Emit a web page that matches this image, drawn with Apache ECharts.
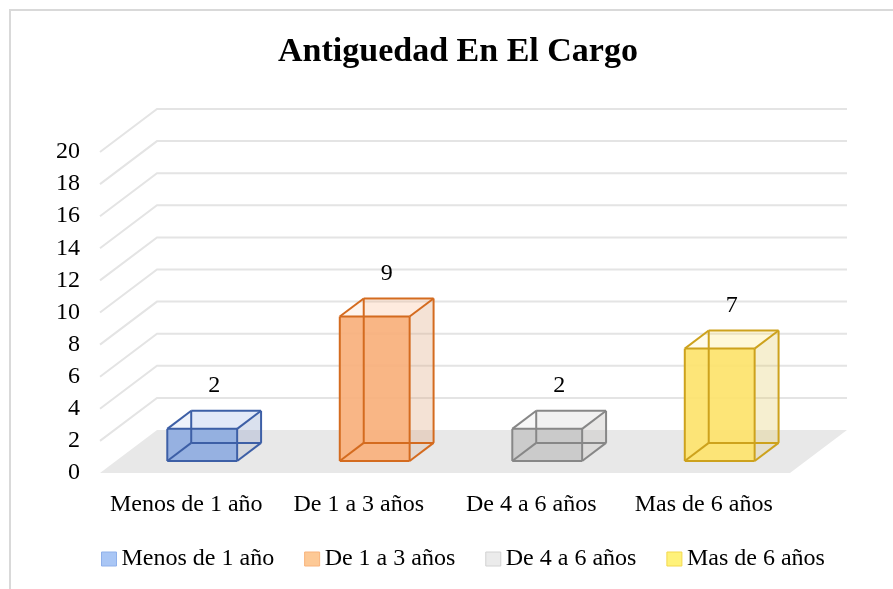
<!DOCTYPE html>
<html>
<head>
<meta charset="utf-8">
<script src="https://cdn.jsdelivr.net/npm/echarts@6/dist/echarts.min.js"></script>
<style>
  html, body { margin: 0; padding: 0; background: #fff; }
  #main { width: 893px; height: 589px; }
</style>
</head>
<body>
<div id="main"></div>
<script>
// datos del grafico
var categories = ['Menos de 1 año', 'De 1 a 3 años', 'De 4 a 6 años', 'Mas de 6 años'];
var values = [2, 9, 2, 7];
var yTicks = [0, 2, 4, 6, 8, 10, 12, 14, 16, 18, 20];

// colores (cara frontal, aristas, leyenda)
var frontColors = ['#8eabe0', '#f8b07c', '#c8c8c8', '#fde36c'];
var edgeColors = ['#3d5fa6', '#d46b1f', '#878787', '#cda21d'];
var legendColors = ['#a9c6f5', '#fdc996', '#ebebeb', '#fff27a'];
var legendBorders = ['#8fb0ea', '#f8b37c', '#d2d2d2', '#f3d84e'];

var FONT = "'Liberation Serif', 'Times New Roman', serif";
// desplazamiento de profundidad (pseudo 3D)
var DX = 57, DY = -43;
var D0 = 0.28, D1 = 0.70;
var BAR_W = 0.405;

function pt(x, y, d) {
  return [x + DX * d, y + DY * d];
}

function renderWall(params, api) {
  var cs = params.coordSys;
  var v = api.value(1);
  var y = api.coord([0, v])[1];
  var gx = cs.x, gw = cs.width;
  if (v === 0) {
    return {
      type: 'polygon',
      shape: { points: [[gx, y], [gx + gw, y], pt(gx + gw, y, 1), pt(gx, y, 1)] },
      style: { fill: '#e8e8e8' }
    };
  }
  return {
    type: 'polyline',
    shape: { points: [[gx, y], pt(gx, y, 1), pt(gx + gw, y, 1)] },
    style: { stroke: '#e4e4e4', lineWidth: 2, fill: null }
  };
}

function makeBox(i) {
  return function (params, api) {
    var cat = api.value(0), v = api.value(1);
    var base = api.coord([cat, 0]);
    var top = api.coord([cat, v]);
    var w = api.size([1, 0])[0] * BAR_W;
    var x0 = base[0] - w / 2, x1 = base[0] + w / 2;
    var yb = base[1], yt = top[1];

    var A0 = pt(x0, yt, D0), B0 = pt(x1, yt, D0), C0 = pt(x1, yb, D0), E0 = pt(x0, yb, D0);
    var A1 = pt(x0, yt, D1), B1 = pt(x1, yt, D1), C1 = pt(x1, yb, D1), E1 = pt(x0, yb, D1);

    var pale = { fill: frontColors[i], opacity: 0.14 };
    var edge = { stroke: edgeColors[i], lineWidth: 2, fill: null };
    var edges = [
      [A0, B0], [B0, C0], [C0, E0], [E0, A0],
      [A1, B1], [B1, C1], [C1, E1], [E1, A1],
      [A0, A1], [B0, B1], [C0, C1], [E0, E1]
    ];
    var kids = [
      { type: 'polygon', shape: { points: [A1, B1, C1, E1] }, style: pale },
      { type: 'polygon', shape: { points: [B0, B1, C1, C0] }, style: { fill: '#b0a8a0', opacity: 0.12 } },
      { type: 'polygon', shape: { points: [B0, B1, C1, C0] }, style: pale },
      { type: 'polygon', shape: { points: [A0, A1, B1, B0] }, style: pale },
      { type: 'polygon', shape: { points: [A0, B0, C0, E0] }, style: { fill: frontColors[i], opacity: 0.92 } }
    ];
    edges.forEach(function (e) {
      kids.push({ type: 'line', shape: { x1: e[0][0], y1: e[0][1], x2: e[1][0], y2: e[1][1] }, style: edge });
    });
    var lp = pt(base[0], yt, (D0 + D1) / 2);
    kids.push({
      type: 'text',
      style: {
        text: String(v), x: lp[0], y: lp[1] - 34,
        align: 'center', verticalAlign: 'middle',
        fontSize: 24, fontFamily: FONT, fill: '#000'
      }
    });
    return { type: 'group', children: kids };
  };
}

var myChart = echarts.init(document.getElementById('main'));

var series = [{
  type: 'custom',
  name: 'paredes',
  data: yTicks.map(function (v) { return [0, v]; }),
  renderItem: renderWall,
  silent: true,
  z: 1
}].concat(categories.map(function (name, i) {
  return {
    type: 'custom',
    name: name,
    data: [[i, values[i]]],
    renderItem: makeBox(i),
    itemStyle: { color: legendColors[i] },
    z: 3
  };
}));

var option = {
  animation: false,
  title: {
    text: 'Antiguedad En El Cargo',
    left: 273, top: 30,
    textStyle: { fontFamily: FONT, fontSize: 34, fontWeight: 'bold', color: '#000' }
  },
  graphic: [{
    type: 'rect', z: -1,
    shape: { x: 10, y: 10, width: 900, height: 600 },
    style: { fill: null, stroke: '#d9d9d9', lineWidth: 2 }
  }],
  legend: {
    left: 96, top: 542,
    itemWidth: 15, itemHeight: 14, itemGap: 30,
    selectedMode: false,
    textStyle: { fontFamily: FONT, fontSize: 24, color: '#000' },
    data: categories.map(function (n, i) {
      return {
        name: n, icon: 'rect',
        itemStyle: { color: legendColors[i], borderColor: legendBorders[i], borderWidth: 1 }
      };
    })
  },
  grid: { left: 100, right: 103, top: 152, bottom: 116 },
  xAxis: {
    type: 'category',
    data: categories,
    axisLine: { show: false },
    axisTick: { show: false },
    axisLabel: { fontFamily: FONT, fontSize: 24, color: '#000', margin: 20, interval: 0 }
  },
  yAxis: {
    type: 'value',
    min: 0, max: 20, interval: 2,
    axisLine: { show: false },
    axisTick: { show: false },
    splitLine: { show: false },
    axisLabel: { fontFamily: FONT, fontSize: 24, color: '#000', margin: 20 }
  },
  series: series
};

myChart.setOption(option);
</script>
</body>
</html>
